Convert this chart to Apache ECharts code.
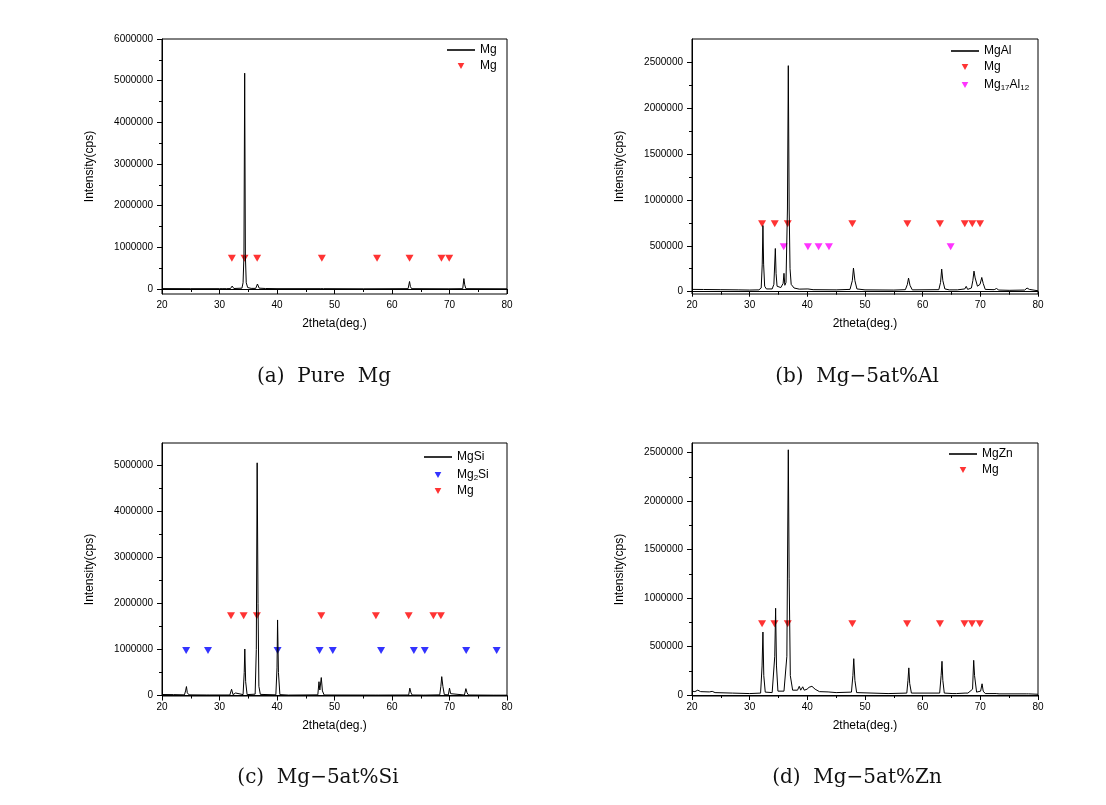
<!DOCTYPE html>
<html>
<head>
<meta charset="utf-8">
<script src="https://cdn.jsdelivr.net/npm/echarts@6/dist/echarts.min.js"></script>
<style>html,body{margin:0;padding:0;background:#fff;}#c{width:1106px;height:805px;}</style>
</head>
<body>
<div id="c"></div>
<script>
// ---- Data (2theta in degrees, intensity in cps) ----
const pureMg = [[20,10000],[25,8000],[30,8000],[30.6,8000],[30.9,35000],[31.2,8000],[31.9,10000],[32.2,70000],[32.5,12000],[33.9,20000],[34.1,150000],[34.25,800000],[34.38,5180000],[34.5,800000],[34.65,150000],[34.9,35000],[35.5,15000],[36.3,15000],[36.6,120000],[36.9,20000],[38,12000],[40,8000],[47.5,8000],[47.8,30000],[48.1,8000],[55,5000],[62.8,8000],[63.05,180000],[63.2,60000],[63.4,8000],[69.9,5000],[70.05,15000],[70.2,5000],[72.3,8000],[72.5,250000],[72.65,100000],[72.85,8000],[80,5000]];
const mgAl = [[20,25000],[22,24000],[25,22000],[28,20000],[30,18000],[31.6,20000],[32.0,40000],[32.18,300000],[32.3,720000],[32.42,300000],[32.6,60000],[32.9,30000],[33.9,30000],[34.2,80000],[34.45,470000],[34.58,200000],[34.75,60000],[35.4,45000],[35.8,90000],[35.95,200000],[36.1,70000],[36.3,100000],[36.55,900000],[36.7,2460000],[36.85,900000],[37.0,250000],[37.2,80000],[37.7,40000],[38.6,28000],[40.1,30000],[41,22000],[45,20000],[47.4,25000],[47.8,120000],[48.0,257000],[48.25,120000],[48.6,30000],[50,20000],[55,18000],[57.0,22000],[57.35,80000],[57.55,148000],[57.8,70000],[58.2,20000],[62.8,22000],[63.1,100000],[63.3,246000],[63.5,120000],[63.85,30000],[64.6,20000],[66,20000],[67.3,30000],[67.55,58000],[67.8,25000],[68.45,40000],[68.7,120000],[68.9,224000],[69.1,150000],[69.5,60000],[69.95,80000],[70.25,155000],[70.5,90000],[70.85,25000],[72.4,22000],[72.8,35000],[73.2,18000],[75,15000],[77.7,18000],[78.1,40000],[78.5,25000],[80,10000]];
const mgSi = [[20,22000],[22,20000],[23.9,15000],[24.1,100000],[24.25,195000],[24.4,60000],[24.7,15000],[27.8,12000],[28.0,50000],[28.2,12000],[31.8,12000],[32.1,137000],[32.35,20000],[32.8,55000],[33.1,12000],[34.1,20000],[34.3,500000],[34.4,1010000],[34.55,300000],[34.8,20000],[36.2,30000],[36.4,1000000],[36.55,5050000],[36.7,2000000],[36.85,200000],[37.1,25000],[39.8,15000],[40.0,600000],[40.1,1640000],[40.25,500000],[40.5,20000],[42,10000],[47.1,15000],[47.3,300000],[47.45,120000],[47.7,390000],[47.9,100000],[48.2,12000],[57.2,10000],[57.4,30000],[57.6,10000],[62.9,12000],[63.1,160000],[63.3,60000],[63.5,12000],[65.5,10000],[65.7,30000],[65.9,10000],[68.3,15000],[68.5,200000],[68.65,410000],[68.85,200000],[69.1,20000],[69.8,15000],[70.0,160000],[70.2,40000],[70.4,12000],[72.6,12000],[72.85,150000],[73.05,60000],[73.3,12000],[77.7,8000],[77.9,30000],[78.1,8000],[80,8000]];
const mgZn = [[20,40000],[20.5,35000],[21,50000],[21.5,35000],[23,32000],[23.5,38000],[24,25000],[27,20000],[30,15000],[31.9,20000],[32.15,300000],[32.3,650000],[32.45,200000],[32.7,30000],[33.9,25000],[34.35,400000],[34.5,895000],[34.65,300000],[34.9,40000],[35.95,40000],[36.45,400000],[36.7,2530000],[36.85,1200000],[37.05,200000],[37.45,50000],[38.3,50000],[38.6,90000],[38.85,50000],[39.2,85000],[39.45,50000],[39.95,60000],[40.3,80000],[40.45,65000],[40.8,90000],[41.35,60000],[42.1,35000],[43.6,32000],[45,25000],[47.65,30000],[47.9,200000],[48.05,375000],[48.25,150000],[48.55,25000],[54,15000],[57.25,20000],[57.45,150000],[57.6,280000],[57.75,120000],[58.05,20000],[62.95,20000],[63.2,200000],[63.35,348000],[63.5,150000],[63.75,20000],[65.25,15000],[65.5,32000],[65.85,15000],[67.35,20000],[67.6,40000],[67.85,20000],[68.65,60000],[68.85,358000],[69.0,200000],[69.35,30000],[70.05,40000],[70.3,116000],[70.5,40000],[70.85,15000],[72.75,15000],[72.95,32000],[73.25,12000],[77.95,12000],[78.15,30000],[78.35,12000],[80,8000]];

// Phase marker positions (2theta) and marker heights (cps)
const aMgMarks = [32.15, 34.35, 36.55, 47.8, 57.4, 63.05, 68.6, 69.95];
const aMgLevel = 740000;
const bMgMarks = [32.15, 34.35, 36.6, 47.8, 57.35, 63.0, 67.3, 68.6, 69.95];
const bMgLevel = 740000;
const bMgAlMarks = [35.9, 40.1, 41.95, 43.75, 64.85];
const bMgAlLevel = 490000;
const cMg2SiMarks = [24.2, 28.0, 40.1, 47.4, 49.7, 58.1, 63.8, 65.7, 72.9, 78.2];
const cMg2SiLevel = 975000;
const cMgMarks = [32.0, 34.2, 36.5, 47.7, 57.2, 62.9, 67.2, 68.5];
const cMgLevel = 1730000;
const dMgMarks = [32.15, 34.3, 36.6, 47.8, 57.3, 63.0, 67.25, 68.55, 69.9];
const dMgLevel = 735000;

// Axis ticks
const xTicks = {min: 20, max: 80, interval: 10};
const aYMajor = [0, 1000000, 2000000, 3000000, 4000000, 5000000, 6000000];
const aYMinor = [500000, 1500000, 2500000, 3500000, 4500000, 5500000];
const bYMajor = [0, 500000, 1000000, 1500000, 2000000, 2500000];
const bYMinor = [250000, 750000, 1250000, 1750000, 2250000];
const cYMajor = [0, 1000000, 2000000, 3000000, 4000000, 5000000];
const cYMinor = [500000, 1500000, 2500000, 3500000, 4500000];
const dYMajor = [0, 500000, 1000000, 1500000, 2000000, 2500000];
const dYMinor = [250000, 750000, 1250000, 1750000, 2250000];

const captions = ['(a)  Pure  Mg', '(b)  Mg\u22125at%Al', '(c)  Mg\u22125at%Si', '(d)  Mg\u22125at%Zn'];

// ---- Chart ----
const FONT = 'Liberation Sans, Arial, sans-serif';
const TRI = 'path://M0,0L10,0L5,9Z';
const LINE_ICON = 'path://M0,0L28,0L28,1.6L0,1.6Z';
const panels = [
  {grid:{left:162, top:39, width:345, height:255}, yMin:-120000, yMax:6000000, major:aYMajor, minor:aYMinor,
   line:{id:'aLine', label:'Mg', data:pureMg},
   marks:[{id:'aMg', label:'Mg', color:'#ff0000', x:aMgMarks, y:aMgLevel}],
   legend:{left:447, top:43}, cap:[324,377]},
  {grid:{left:692, top:39, width:346, height:255}, yMin:-25000, yMax:2750000, major:bYMajor, minor:bYMinor,
   line:{id:'bLine', label:'MgAl', data:mgAl},
   marks:[{id:'bMg', label:'Mg', color:'#ff0000', x:bMgMarks, y:bMgLevel},
          {id:'bMgAl', label:'{n|Mg}{s|17}{n|Al}{s|12}', color:'#ff00ff', x:bMgAlMarks, y:bMgAlLevel}],
   legend:{left:951, top:44}, cap:[857,377]},
  {grid:{left:162, top:443, width:345, height:253}, yMin:-10000, yMax:5480000, major:cYMajor, minor:cYMinor,
   line:{id:'cLine', label:'MgSi', data:mgSi},
   marks:[{id:'cMg2Si', label:'{n|Mg}{s|2}{n|Si}', color:'#0000ff', x:cMg2SiMarks, y:cMg2SiLevel},
          {id:'cMg', label:'Mg', color:'#ff0000', x:cMgMarks, y:cMgLevel}],
   legend:{left:424, top:450}, cap:[318,778]},
  {grid:{left:692, top:443, width:346, height:253}, yMin:-10000, yMax:2600000, major:dYMajor, minor:dYMinor,
   line:{id:'dLine', label:'MgZn', data:mgZn},
   marks:[{id:'dMg', label:'Mg', color:'#ff0000', x:dMgMarks, y:dMgLevel}],
   legend:{left:949, top:447}, cap:[857,778]}
];

const labelMap = {};
const option = {animation:false, backgroundColor:'#fff', grid:[], xAxis:[], yAxis:[], series:[], legend:[], graphic:[]};
panels.forEach((p, i) => {
  option.grid.push(Object.assign({show:true, borderColor:'#000', borderWidth:1, backgroundColor:'transparent'}, p.grid));
  option.xAxis.push({type:'value', gridIndex:i, min:xTicks.min, max:xTicks.max, interval:xTicks.interval,
    axisLine:{lineStyle:{color:'#000', width:1}}, axisTick:{inside:false, length:5, lineStyle:{color:'#000'}},
    minorTick:{show:true, splitNumber:2, length:3, lineStyle:{color:'#000'}},
    axisLabel:{color:'#000', fontSize:10, fontFamily:FONT, margin:6},
    splitLine:{show:false}, minorSplitLine:{show:false},
    name:'2theta(deg.)', nameLocation:'middle', nameGap:24, nameTextStyle:{color:'#000', fontSize:12, fontFamily:FONT}});
  option.yAxis.push({type:'value', gridIndex:i, position:'left', min:p.yMin, max:p.yMax,
    axisLine:{show:true, lineStyle:{color:'#000', width:1}},
    axisTick:{show:true, inside:false, length:5, customValues:p.major, lineStyle:{color:'#000'}},
    axisLabel:{color:'#000', fontSize:10, fontFamily:FONT, margin:9, customValues:p.major, formatter: v => String(v)},
    splitLine:{show:false},
    name:'Intensity(cps)', nameLocation:'middle', nameGap:66, nameTextStyle:{color:'#000', fontSize:12, fontFamily:FONT}});
  option.yAxis.push({type:'value', gridIndex:i, position:'left', offset:0, min:p.yMin, max:p.yMax,
    axisLine:{show:false}, axisLabel:{show:false}, splitLine:{show:false},
    axisTick:{show:true, inside:false, length:3, customValues:p.minor, lineStyle:{color:'#000'}}});
  labelMap[p.line.id] = p.line.label;
  option.series.push({type:'line', name:p.line.id, xAxisIndex:i, yAxisIndex:2*i, data:p.line.data,
    symbol:'none', lineStyle:{color:'#000', width:1}, itemStyle:{color:'#000'}, clip:true});
  const names = [{name:p.line.id, icon:LINE_ICON, itemStyle:{color:'#000'}}];
  p.marks.forEach(m => {
    labelMap[m.id] = m.label;
    names.push({name:m.id});
    option.series.push({type:'scatter', name:m.id, xAxisIndex:i, yAxisIndex:2*i,
      data:m.x.map(x => [x, m.y]), symbol:TRI, symbolSize:[8,7], itemStyle:{color:m.color}});
  });
  option.legend.push({orient:'vertical', left:p.legend.left, top:p.legend.top, padding:0, itemGap:2,
    itemWidth:28, itemHeight:6, data:names, selectedMode:false,
    formatter: n => labelMap[n],
    textStyle:{color:'#000', fontSize:12, fontFamily:FONT, lineHeight:14,
      rich:{n:{fontSize:12, fontFamily:FONT, color:'#000', lineHeight:14},
            s:{fontSize:8, fontFamily:FONT, color:'#000', lineHeight:8, verticalAlign:'bottom', padding:[8,0,0,0]}}}});
  option.graphic.push({type:'text', x:p.cap[0], y:p.cap[1],
    style:{text:captions[i], x:0, y:0, align:'center', verticalAlign:'middle', fill:'#111',
      font:'20px "DejaVu Serif", "Liberation Serif", serif'}});
});

const chart = echarts.init(document.getElementById('c'), null, {renderer:'canvas'});
chart.setOption(option);
</script>
</body>
</html>
